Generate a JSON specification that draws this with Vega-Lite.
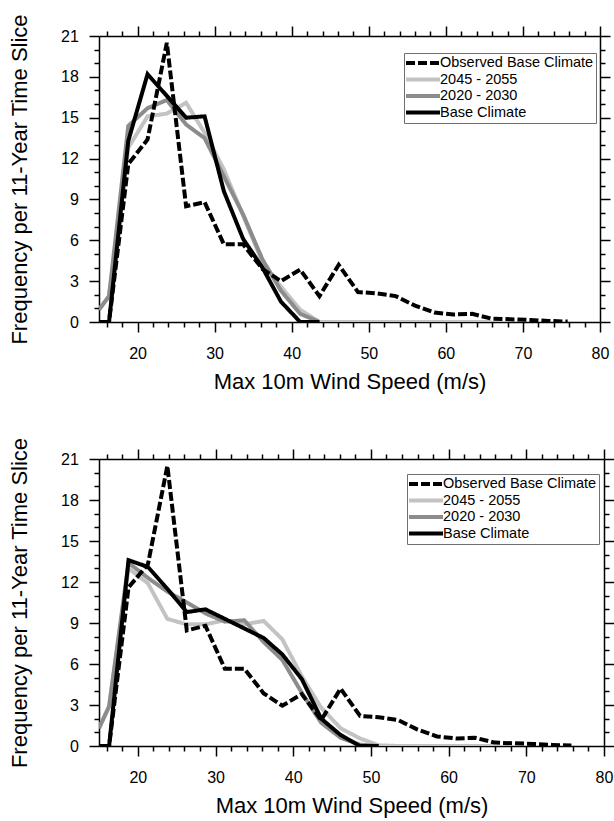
{
  "$schema": "https://vega.github.io/schema/vega-lite/v6.json",
  "padding": {"left": 8, "top": 13, "right": 5, "bottom": 5},
  "autosize": {"type": "pad"},
  "bounds": "flush",
  "spacing": 137,
  "config": {
    "font": "Liberation Sans",
    "view": {"stroke": null},
    "axis": {
      "grid": false,
      "domainColor": "#000000",
      "domainWidth": 1.5,
      "tickColor": "#000000",
      "tickWidth": 1.5,
      "labelColor": "#000000",
      "labelFontSize": 16,
      "labelFont": "Liberation Sans",
      "titleFont": "Liberation Sans",
      "titleFontSize": 22,
      "titleFontWeight": "normal",
      "titleColor": "#000000",
      "labelOverlap": false,
      "labelFlush": false
    },
    "legend": {
      "orient": "none",
      "title": null,
      "symbolType": "M-1.333,0H4.333",
      "symbolSize": 144,
      "symbolStrokeWidth": 4,
      "labelFontSize": 14.5,
      "labelFont": "Liberation Sans",
      "labelColor": "#000000",
      "labelOffset": 18,
      "labelLimit": 400,
      "strokeColor": "#707070",
      "fillColor": "#ffffff",
      "padding": 2,
      "rowPadding": 0.5
    }
  },
  "resolve": {"scale": {"color": "independent", "strokeDash": "independent"}, "legend": {"color": "independent", "strokeDash": "independent"}},
  "datasets": {
    "top": [
      {"series": "2045 - 2055", "x": 15.0, "y": 0.9},
      {"series": "2045 - 2055", "x": 16.3, "y": 1.9},
      {"series": "2045 - 2055", "x": 18.8, "y": 12.8},
      {"series": "2045 - 2055", "x": 21.3, "y": 15.1},
      {"series": "2045 - 2055", "x": 23.8, "y": 15.3},
      {"series": "2045 - 2055", "x": 26.3, "y": 16.1},
      {"series": "2045 - 2055", "x": 28.7, "y": 13.9},
      {"series": "2045 - 2055", "x": 31.2, "y": 11.2},
      {"series": "2045 - 2055", "x": 33.7, "y": 7.8},
      {"series": "2045 - 2055", "x": 36.2, "y": 4.4},
      {"series": "2045 - 2055", "x": 38.6, "y": 2.6},
      {"series": "2045 - 2055", "x": 41.1, "y": 0.9},
      {"series": "2045 - 2055", "x": 43.6, "y": 0},
      {"series": "2045 - 2055", "x": 65.9, "y": 0},
      {"series": "2020 - 2030", "x": 15.0, "y": 0.9},
      {"series": "2020 - 2030", "x": 16.3, "y": 1.9},
      {"series": "2020 - 2030", "x": 18.8, "y": 14.4},
      {"series": "2020 - 2030", "x": 21.3, "y": 15.7},
      {"series": "2020 - 2030", "x": 23.8, "y": 16.3},
      {"series": "2020 - 2030", "x": 26.3, "y": 14.5},
      {"series": "2020 - 2030", "x": 28.7, "y": 13.5},
      {"series": "2020 - 2030", "x": 31.2, "y": 10.7},
      {"series": "2020 - 2030", "x": 33.7, "y": 7.9},
      {"series": "2020 - 2030", "x": 36.2, "y": 4.6},
      {"series": "2020 - 2030", "x": 38.6, "y": 2.3},
      {"series": "2020 - 2030", "x": 41.1, "y": 0.6},
      {"series": "2020 - 2030", "x": 43.6, "y": 0},
      {"series": "Base Climate", "x": 13.8, "y": 0},
      {"series": "Base Climate", "x": 16.3, "y": 0},
      {"series": "Base Climate", "x": 18.8, "y": 13.3},
      {"series": "Base Climate", "x": 21.3, "y": 18.2},
      {"series": "Base Climate", "x": 23.8, "y": 16.6},
      {"series": "Base Climate", "x": 26.3, "y": 15.0},
      {"series": "Base Climate", "x": 28.7, "y": 15.1},
      {"series": "Base Climate", "x": 31.2, "y": 9.6},
      {"series": "Base Climate", "x": 33.7, "y": 6.1},
      {"series": "Base Climate", "x": 36.2, "y": 4.0},
      {"series": "Base Climate", "x": 38.6, "y": 1.5},
      {"series": "Base Climate", "x": 41.1, "y": 0},
      {"series": "Base Climate", "x": 43.6, "y": 0},
      {"series": "Observed Base Climate", "x": 13.8, "y": 0},
      {"series": "Observed Base Climate", "x": 16.3, "y": 0},
      {"series": "Observed Base Climate", "x": 18.8, "y": 11.6},
      {"series": "Observed Base Climate", "x": 21.3, "y": 13.4},
      {"series": "Observed Base Climate", "x": 23.8, "y": 20.5},
      {"series": "Observed Base Climate", "x": 26.3, "y": 8.5},
      {"series": "Observed Base Climate", "x": 28.7, "y": 8.8},
      {"series": "Observed Base Climate", "x": 31.2, "y": 5.7},
      {"series": "Observed Base Climate", "x": 33.7, "y": 5.7},
      {"series": "Observed Base Climate", "x": 36.2, "y": 3.9},
      {"series": "Observed Base Climate", "x": 38.6, "y": 3.0},
      {"series": "Observed Base Climate", "x": 41.1, "y": 3.85},
      {"series": "Observed Base Climate", "x": 43.6, "y": 1.9},
      {"series": "Observed Base Climate", "x": 46.1, "y": 4.2},
      {"series": "Observed Base Climate", "x": 48.6, "y": 2.2},
      {"series": "Observed Base Climate", "x": 51.0, "y": 2.1},
      {"series": "Observed Base Climate", "x": 53.5, "y": 1.9},
      {"series": "Observed Base Climate", "x": 56.0, "y": 1.2},
      {"series": "Observed Base Climate", "x": 58.5, "y": 0.7},
      {"series": "Observed Base Climate", "x": 61.0, "y": 0.55},
      {"series": "Observed Base Climate", "x": 63.4, "y": 0.6},
      {"series": "Observed Base Climate", "x": 65.9, "y": 0.25},
      {"series": "Observed Base Climate", "x": 68.4, "y": 0.2},
      {"series": "Observed Base Climate", "x": 70.9, "y": 0.15},
      {"series": "Observed Base Climate", "x": 73.3, "y": 0.08},
      {"series": "Observed Base Climate", "x": 75.8, "y": 0.03}
    ],
    "bottom": [
      {"series": "2045 - 2055", "x": 15.0, "y": 1.3},
      {"series": "2045 - 2055", "x": 16.3, "y": 2.9},
      {"series": "2045 - 2055", "x": 18.8, "y": 13.0},
      {"series": "2045 - 2055", "x": 21.3, "y": 11.9},
      {"series": "2045 - 2055", "x": 23.8, "y": 9.3},
      {"series": "2045 - 2055", "x": 26.3, "y": 8.9},
      {"series": "2045 - 2055", "x": 28.7, "y": 8.9},
      {"series": "2045 - 2055", "x": 31.2, "y": 9.2},
      {"series": "2045 - 2055", "x": 33.7, "y": 8.9},
      {"series": "2045 - 2055", "x": 36.2, "y": 9.15},
      {"series": "2045 - 2055", "x": 38.6, "y": 7.8},
      {"series": "2045 - 2055", "x": 41.1, "y": 5.1},
      {"series": "2045 - 2055", "x": 43.6, "y": 2.8},
      {"series": "2045 - 2055", "x": 46.1, "y": 1.3},
      {"series": "2045 - 2055", "x": 48.6, "y": 0.55},
      {"series": "2045 - 2055", "x": 51.0, "y": 0.05},
      {"series": "2045 - 2055", "x": 53.5, "y": 0},
      {"series": "2045 - 2055", "x": 65.9, "y": 0},
      {"series": "2020 - 2030", "x": 15.0, "y": 1.3},
      {"series": "2020 - 2030", "x": 16.3, "y": 2.9},
      {"series": "2020 - 2030", "x": 18.8, "y": 13.4},
      {"series": "2020 - 2030", "x": 21.3, "y": 12.3},
      {"series": "2020 - 2030", "x": 23.8, "y": 11.3},
      {"series": "2020 - 2030", "x": 26.3, "y": 10.5},
      {"series": "2020 - 2030", "x": 28.7, "y": 9.7},
      {"series": "2020 - 2030", "x": 31.2, "y": 9.1},
      {"series": "2020 - 2030", "x": 33.7, "y": 9.2},
      {"series": "2020 - 2030", "x": 36.2, "y": 7.6},
      {"series": "2020 - 2030", "x": 38.6, "y": 6.3},
      {"series": "2020 - 2030", "x": 41.1, "y": 3.9},
      {"series": "2020 - 2030", "x": 43.6, "y": 1.7},
      {"series": "2020 - 2030", "x": 46.1, "y": 0.6},
      {"series": "2020 - 2030", "x": 48.6, "y": 0.1},
      {"series": "2020 - 2030", "x": 51.0, "y": 0},
      {"series": "Base Climate", "x": 13.8, "y": 0},
      {"series": "Base Climate", "x": 16.3, "y": 0},
      {"series": "Base Climate", "x": 18.8, "y": 13.6},
      {"series": "Base Climate", "x": 21.3, "y": 13.1},
      {"series": "Base Climate", "x": 23.8, "y": 11.5},
      {"series": "Base Climate", "x": 26.3, "y": 9.8},
      {"series": "Base Climate", "x": 28.7, "y": 10.0},
      {"series": "Base Climate", "x": 31.2, "y": 9.3},
      {"series": "Base Climate", "x": 33.7, "y": 8.6},
      {"series": "Base Climate", "x": 36.2, "y": 7.9},
      {"series": "Base Climate", "x": 38.6, "y": 6.7},
      {"series": "Base Climate", "x": 41.1, "y": 4.9},
      {"series": "Base Climate", "x": 43.6, "y": 2.0},
      {"series": "Base Climate", "x": 46.1, "y": 0.8},
      {"series": "Base Climate", "x": 48.6, "y": 0},
      {"series": "Base Climate", "x": 51.0, "y": 0},
      {"series": "Observed Base Climate", "x": 13.8, "y": 0},
      {"series": "Observed Base Climate", "x": 16.3, "y": 0},
      {"series": "Observed Base Climate", "x": 18.8, "y": 11.6},
      {"series": "Observed Base Climate", "x": 21.3, "y": 13.3},
      {"series": "Observed Base Climate", "x": 23.8, "y": 20.5},
      {"series": "Observed Base Climate", "x": 26.3, "y": 8.45},
      {"series": "Observed Base Climate", "x": 28.7, "y": 8.8},
      {"series": "Observed Base Climate", "x": 31.2, "y": 5.65},
      {"series": "Observed Base Climate", "x": 33.7, "y": 5.65},
      {"series": "Observed Base Climate", "x": 36.2, "y": 3.85},
      {"series": "Observed Base Climate", "x": 38.6, "y": 2.95},
      {"series": "Observed Base Climate", "x": 41.1, "y": 3.8},
      {"series": "Observed Base Climate", "x": 43.6, "y": 1.9},
      {"series": "Observed Base Climate", "x": 46.1, "y": 4.2},
      {"series": "Observed Base Climate", "x": 48.6, "y": 2.2},
      {"series": "Observed Base Climate", "x": 51.0, "y": 2.1},
      {"series": "Observed Base Climate", "x": 53.5, "y": 1.9},
      {"series": "Observed Base Climate", "x": 56.0, "y": 1.2},
      {"series": "Observed Base Climate", "x": 58.5, "y": 0.7},
      {"series": "Observed Base Climate", "x": 61.0, "y": 0.55},
      {"series": "Observed Base Climate", "x": 63.4, "y": 0.6},
      {"series": "Observed Base Climate", "x": 65.9, "y": 0.25},
      {"series": "Observed Base Climate", "x": 68.4, "y": 0.2},
      {"series": "Observed Base Climate", "x": 70.9, "y": 0.15},
      {"series": "Observed Base Climate", "x": 73.3, "y": 0.08},
      {"series": "Observed Base Climate", "x": 75.8, "y": 0.03}
    ]
  },
  "vconcat": [
    {
      "width": 501,
      "height": 286,
      "data": {"name": "top"},
      "layer": [
        {
          "mark": {"type": "line", "clip": true, "strokeWidth": 4, "strokeCap": "butt", "strokeJoin": "miter"},
          "encoding": {
            "x": {"field": "x", "type": "quantitative", "scale": {"domain": [15, 80], "nice": false, "zero": false},
              "axis": {"orient": "bottom", "values": [16,18,20,22,24,26,28,30,32,34,36,38,40,42,44,46,48,50,52,54,56,58,60,62,64,66,68,70,72,74,76,78,80],
                "labelExpr": "datum.value % 10 === 0 ? datum.label : ''",
                "tickSize": {"condition": {"test": "datum.value % 10 === 0", "value": 10}, "value": 5},
                "labelPadding": 13, "title": "Max 10m Wind Speed (m/s)", "titlePadding": 10}},
            "y": {"field": "y", "type": "quantitative", "scale": {"domain": [0, 21], "nice": false},
              "axis": {"orient": "left", "values": [0,1,2,3,4,5,6,7,8,9,10,11,12,13,14,15,16,17,18,19,20,21],
                "labelExpr": "datum.value % 3 === 0 ? datum.label : ''",
                "tickSize": {"condition": {"test": "datum.value % 3 === 0", "value": 10}, "value": 5},
                "labelPadding": 10.6, "title": "Frequency per 11-Year Time Slice", "titlePadding": 29}},
            "color": {"field": "series", "type": "nominal",
              "scale": {"domain": ["Observed Base Climate", "2045 - 2055", "2020 - 2030", "Base Climate"], "range": ["#000000", "#c3c3c3", "#8c8c8c", "#000000"]},
              "legend": {"legendX": 305, "legendY": 17}},
            "strokeDash": {"field": "series", "type": "nominal",
              "scale": {"domain": ["Observed Base Climate", "2045 - 2055", "2020 - 2030", "Base Climate"], "range": [[9, 3], [1, 0], [1, 0], [1, 0]]},
              "legend": {"legendX": 305, "legendY": 17}}
          }
        },
        {
          "mark": {"type": "point", "opacity": 0, "clip": true},
          "encoding": {
            "x": {"field": "x", "type": "quantitative",
              "axis": {"orient": "top", "values": [16,18,20,22,24,26,28,30,32,34,36,38,40,42,44,46,48,50,52,54,56,58,60,62,64,66,68,70,72,74,76,78,80],
                "labels": false, "title": null,
                "tickSize": {"condition": {"test": "datum.value % 10 === 0", "value": 10}, "value": 5}}},
            "y": {"field": "y", "type": "quantitative",
              "axis": {"orient": "right", "values": [0,1,2,3,4,5,6,7,8,9,10,11,12,13,14,15,16,17,18,19,20,21],
                "labels": false, "title": null,
                "tickSize": {"condition": {"test": "datum.value % 3 === 0", "value": 10}, "value": 5}}}
          }
        }
      ],
      "resolve": {"axis": {"x": "independent", "y": "independent"}}
    },
    {
      "width": 505,
      "height": 287,
      "data": {"name": "bottom"},
      "layer": [
        {
          "mark": {"type": "line", "clip": true, "strokeWidth": 4, "strokeCap": "butt", "strokeJoin": "miter"},
          "encoding": {
            "x": {"field": "x", "type": "quantitative", "scale": {"domain": [15, 80], "nice": false, "zero": false},
              "axis": {"orient": "bottom", "values": [16,18,20,22,24,26,28,30,32,34,36,38,40,42,44,46,48,50,52,54,56,58,60,62,64,66,68,70,72,74,76,78,80],
                "labelExpr": "datum.value % 10 === 0 ? datum.label : ''",
                "tickSize": {"condition": {"test": "datum.value % 10 === 0", "value": 10}, "value": 5},
                "labelPadding": 13, "title": "Max 10m Wind Speed (m/s)", "titlePadding": 10}},
            "y": {"field": "y", "type": "quantitative", "scale": {"domain": [0, 21], "nice": false},
              "axis": {"orient": "left", "values": [0,1,2,3,4,5,6,7,8,9,10,11,12,13,14,15,16,17,18,19,20,21],
                "labelExpr": "datum.value % 3 === 0 ? datum.label : ''",
                "tickSize": {"condition": {"test": "datum.value % 3 === 0", "value": 10}, "value": 5},
                "labelPadding": 10.6, "title": "Frequency per 11-Year Time Slice", "titlePadding": 29}},
            "color": {"field": "series", "type": "nominal",
              "scale": {"domain": ["Observed Base Climate", "2045 - 2055", "2020 - 2030", "Base Climate"], "range": ["#000000", "#c3c3c3", "#8c8c8c", "#000000"]},
              "legend": {"legendX": 308, "legendY": 15}},
            "strokeDash": {"field": "series", "type": "nominal",
              "scale": {"domain": ["Observed Base Climate", "2045 - 2055", "2020 - 2030", "Base Climate"], "range": [[9, 3], [1, 0], [1, 0], [1, 0]]},
              "legend": {"legendX": 308, "legendY": 15}}
          }
        },
        {
          "mark": {"type": "point", "opacity": 0, "clip": true},
          "encoding": {
            "x": {"field": "x", "type": "quantitative",
              "axis": {"orient": "top", "values": [16,18,20,22,24,26,28,30,32,34,36,38,40,42,44,46,48,50,52,54,56,58,60,62,64,66,68,70,72,74,76,78,80],
                "labels": false, "title": null,
                "tickSize": {"condition": {"test": "datum.value % 10 === 0", "value": 10}, "value": 5}}},
            "y": {"field": "y", "type": "quantitative",
              "axis": {"orient": "right", "values": [0,1,2,3,4,5,6,7,8,9,10,11,12,13,14,15,16,17,18,19,20,21],
                "labels": false, "title": null,
                "tickSize": {"condition": {"test": "datum.value % 3 === 0", "value": 10}, "value": 5}}}
          }
        }
      ],
      "resolve": {"axis": {"x": "independent", "y": "independent"}}
    }
  ]
}
